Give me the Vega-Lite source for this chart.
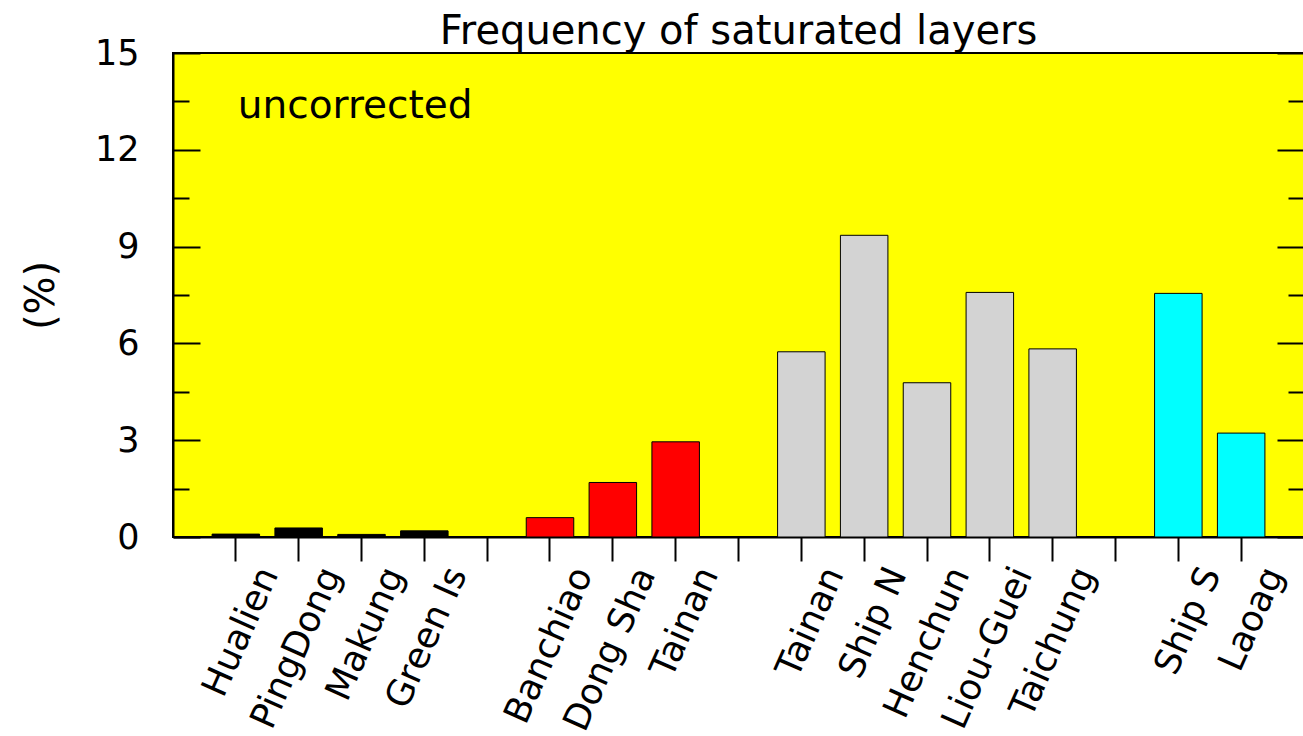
{
  "$schema": "https://vega.github.io/schema/vega-lite/v6.json",
  "width": 1131,
  "height": 484,
  "autosize": "none",
  "padding": {"left": 173, "top": 53, "right": 0, "bottom": 199},
  "background": "white",
  "title": {"text": "Frequency of saturated layers", "font": "DejaVu Sans", "fontSize": 40, "fontWeight": "normal", "color": "black", "anchor": "middle", "offset": -16},
  "data": {"values": [
    {"station": "Hualien", "group": "A", "pct": 0.09},
    {"station": "PingDong", "group": "A", "pct": 0.28},
    {"station": "Makung", "group": "A", "pct": 0.08},
    {"station": "Green Is", "group": "A", "pct": 0.19},
    {"station": "Banchiao", "group": "B", "pct": 0.6},
    {"station": "Dong Sha", "group": "B", "pct": 1.69},
    {"station": "Tainan", "group": "B", "pct": 2.95},
    {"station": "Tainan ", "group": "C", "pct": 5.74},
    {"station": "Ship N", "group": "C", "pct": 9.35},
    {"station": "Henchun", "group": "C", "pct": 4.78},
    {"station": "Liou-Guei", "group": "C", "pct": 7.58},
    {"station": "Taichung", "group": "C", "pct": 5.83},
    {"station": "Ship S", "group": "D", "pct": 7.55},
    {"station": "Laoag", "group": "D", "pct": 3.22}
  ]},
  "layer": [
    {
      "mark": {"type": "bar", "stroke": "black", "strokeWidth": 1},
      "encoding": {
        "x": {
          "field": "station", "type": "nominal", "sort": null,
          "scale": {"domain": ["Hualien", "PingDong", "Makung", "Green Is", " ", "Banchiao", "Dong Sha", "Tainan", "  ", "Tainan ", "Ship N", "Henchun", "Liou-Guei", "Taichung", "   ", "Ship S", "Laoag"], "paddingInner": 0.244, "paddingOuter": 0.622},
          "axis": {"orient": "bottom", "labelExpr": "trim(datum.label)", "labelAngle": -66, "labelAlign": "right", "labelBaseline": "middle", "labelOffset": 33, "labelPadding": 8, "labelFontSize": 36, "labelLimit": 0, "labelOverlap": false, "tickSize": 24, "tickWidth": 2, "title": null, "domainWidth": 2}
        },
        "y": {
          "field": "pct", "type": "quantitative",
          "scale": {"domain": [0, 15], "nice": false},
          "axis": {"orient": "left", "values": [0, 1.5, 3, 4.5, 6, 7.5, 9, 10.5, 12, 13.5, 15], "labelExpr": "datum.value % 3 === 0 ? '' + datum.value : ''", "tickSize": {"condition": {"test": "datum.value % 3 === 0", "value": -27}, "value": -16}, "tickWidth": 2, "labelPadding": 61, "labelFontSize": 35, "labelOverlap": false, "title": "(%)", "titleFontSize": 40, "titleFontWeight": "normal", "titlePadding": 33, "domainWidth": 2, "grid": false}
        },
        "color": {"field": "group", "type": "nominal", "scale": {"domain": ["A", "B", "C", "D"], "range": ["#000000", "#ff0000", "#d3d3d3", "#00ffff"]}, "legend": null}
      }
    },
    {
      "data": {"values": [{"label": "uncorrected"}]},
      "mark": {"type": "text", "align": "left", "baseline": "alphabetic", "fontSize": 39, "font": "DejaVu Sans", "color": "black", "dx": 2},
      "encoding": {
        "text": {"field": "label"},
        "x": {"datum": "Hualien", "type": "nominal", "scale": {"domain": ["Hualien", "PingDong", "Makung", "Green Is", " ", "Banchiao", "Dong Sha", "Tainan", "  ", "Tainan ", "Ship N", "Henchun", "Liou-Guei", "Taichung", "   ", "Ship S", "Laoag"], "paddingInner": 0.244, "paddingOuter": 0.622}},
        "y": {
          "datum": 13, "type": "quantitative",
          "scale": {"domain": [0, 15], "nice": false},
          "axis": {"orient": "right", "values": [0, 1.5, 3, 4.5, 6, 7.5, 9, 10.5, 12, 13.5, 15], "labels": false, "tickSize": {"condition": {"test": "datum.value % 3 === 0", "value": -27}, "value": -16}, "tickWidth": 2, "title": null, "domainWidth": 2, "grid": false}
        }
      }
    }
  ],
  "resolve": {"axis": {"y": "independent"}},
  "config": {
    "font": "DejaVu Sans",
    "view": {"fill": "#ffff00", "stroke": "#000000", "strokeWidth": 2},
    "axis": {"labelFont": "DejaVu Sans", "titleFont": "DejaVu Sans", "labelColor": "black", "titleColor": "black", "tickColor": "black", "domainColor": "black", "grid": false}
  }
}
